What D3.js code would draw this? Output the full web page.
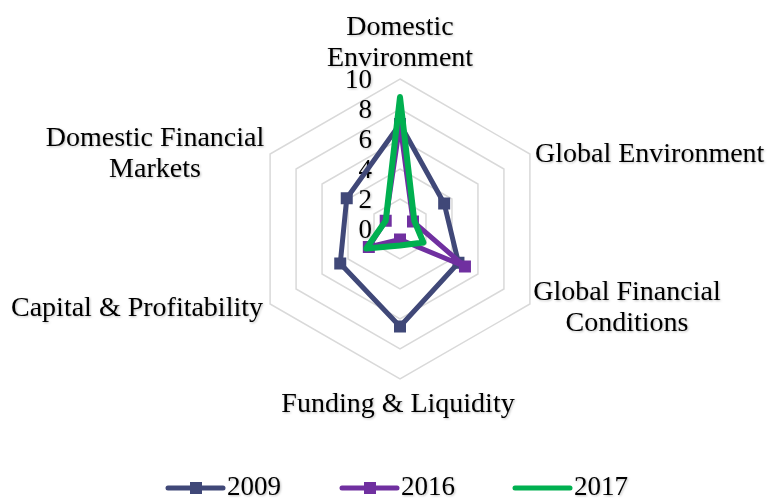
<!DOCTYPE html>
<html>
<head>
<meta charset="utf-8">
<script src="https://cdn.jsdelivr.net/npm/d3@7"></script>
<style>
  html, body { margin: 0; padding: 0; background: #fff; }
  svg { display: block; }
  text { font-family: "Liberation Serif", "Times New Roman", serif; fill: #000; }
</style>
</head>
<body>
<svg id="chart" width="767" height="500"></svg>
<script>
const categories = ["Domestic Environment", "Global Environment", "Global Financial Conditions", "Funding & Liquidity", "Capital & Profitability", "Domestic Financial Markets"];
const seriesNames = ["2009", "2016", "2017"];
const values2009 = [7, 3.4, 4.5, 6.5, 4.6, 4.1];
const values2016 = [7, 1.0, 5.0, 0.7, 2.4, 1.1];
const values2017 = [8.8, 1.1, 1.8, 1.1, 2.6, 1.1];
const tickValues = [0, 2, 4, 6, 8, 10];

const colors = { "2009": "#404878", "2016": "#7030A0", "2017": "#00B050" };
const hasMarkers = { "2009": true, "2016": true, "2017": false };
const series = [
  { name: "2009", values: values2009 },
  { name: "2016", values: values2016 },
  { name: "2017", values: values2017 }
];

// label layout (multi-line, position, anchor) per category
const labelLines = [["Domestic", "Environment"], ["Global Environment"], ["Global Financial", "Conditions"], ["Funding & Liquidity"], ["Capital & Profitability"], ["Domestic Financial", "Markets"]];
const labelPos = [
  { x: 400, y: 35, anchor: "middle" },
  { x: 535, y: 162, anchor: "start" },
  { x: 627, y: 300, anchor: "middle" },
  { x: 398, y: 412, anchor: "middle" },
  { x: 263, y: 316, anchor: "end" },
  { x: 155, y: 146, anchor: "middle" }
];

const svg = d3.select("#chart");
const defs = svg.append("defs");
const f = defs.append("filter").attr("id", "shadow").attr("x", "-10%").attr("y", "-20%").attr("width", "130%").attr("height", "150%");
f.append("feDropShadow").attr("dx", 1).attr("dy", 1).attr("stdDeviation", 0.8).attr("flood-color", "#000").attr("flood-opacity", 0.25);

const cx = 400, cy = 229, R = 150;
const r = d3.scaleLinear().domain([0, 10]).range([0, R]);
const angle = d3.scalePoint().domain(d3.range(categories.length)).range([0, 2 * Math.PI * (categories.length - 1) / categories.length]);
const pt = (i, v) => [cx + r(v) * Math.sin(angle(i)), cy - r(v) * Math.cos(angle(i))];

const g = svg.append("g");

// grid hexagons
tickValues.filter(t => t > 0).forEach(t => {
  g.append("path")
    .attr("d", d3.line()(categories.map((c, i) => pt(i, t))) + "Z")
    .attr("fill", "none")
    .attr("stroke", "#D9D9D9")
    .attr("stroke-width", 1.5);
});

// tick labels
g.selectAll("text.tick").data(tickValues).join("text")
  .attr("class", "tick")
  .attr("x", cx - 28)
  .attr("y", d => cy - r(d) + 3)
  .attr("text-anchor", "end")
  .attr("dominant-baseline", "middle")
  .attr("font-size", 27)
  .attr("filter", "url(#shadow)")
  .text(d => d);

// series lines
const line = d3.line().curve(d3.curveLinearClosed);
series.forEach(s => {
  const pts = s.values.map((v, i) => pt(i, v));
  g.append("path")
    .attr("d", line(pts))
    .attr("fill", "none")
    .attr("stroke", colors[s.name])
    .attr("stroke-width", s.name === "2017" ? 6 : 5)
    .attr("stroke-linejoin", "round");
  if (hasMarkers[s.name]) {
    g.selectAll(null).data(pts).join("rect")
      .attr("x", d => d[0] - 6)
      .attr("y", d => d[1] - 6)
      .attr("width", 12)
      .attr("height", 12)
      .attr("fill", colors[s.name]);
  }
});

// category labels
categories.forEach((c, i) => {
  const p = labelPos[i];
  const t = g.append("text")
    .attr("x", p.x)
    .attr("y", p.y)
    .attr("text-anchor", p.anchor)
    .attr("font-size", 28)
    .attr("filter", "url(#shadow)");
  labelLines[i].forEach((ln, k) => {
    t.append("tspan").attr("x", p.x).attr("dy", k === 0 ? 0 : 31).text(ln);
  });
});

// legend
const legendX = [168, 342, 515];
const leg = svg.append("g");
series.forEach((s, k) => {
  const x0 = legendX[k], y0 = 488;
  leg.append("line")
    .attr("x1", x0).attr("x2", x0 + 55)
    .attr("y1", y0).attr("y2", y0)
    .attr("stroke", colors[s.name])
    .attr("stroke-width", 5)
    .attr("stroke-linecap", "round");
  if (hasMarkers[s.name]) {
    leg.append("rect")
      .attr("x", x0 + 28 - 6).attr("y", y0 - 6)
      .attr("width", 12).attr("height", 12)
      .attr("fill", colors[s.name]);
  }
  leg.append("text")
    .attr("x", x0 + 59)
    .attr("y", 495)
    .attr("font-size", 27)
    .attr("filter", "url(#shadow)")
    .text(s.name);
});
</script>
</body>
</html>
